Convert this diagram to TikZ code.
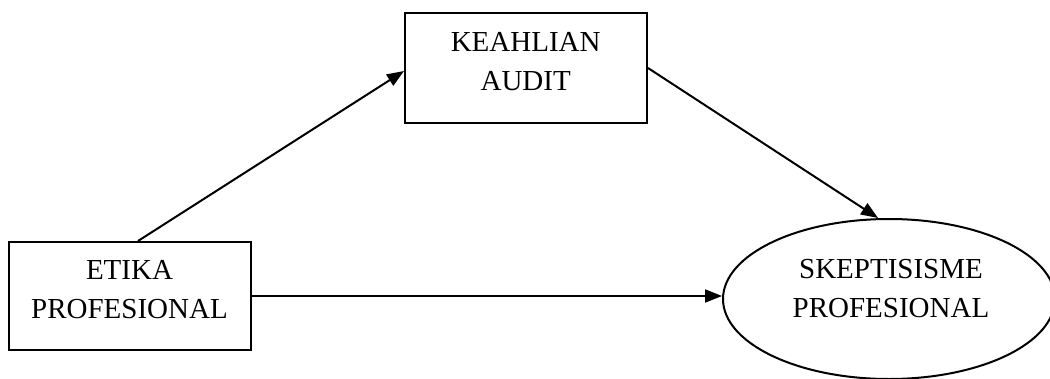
\documentclass[tikz,border=0pt]{standalone}
\usepackage{fontspec}
\setmainfont{Liberation Serif}
\usetikzlibrary{arrows.meta,shapes.geometric,calc}
\begin{document}
\begin{tikzpicture}[x=1pt,y=-1pt,
  boxstyle/.style={draw,line width=2pt,rectangle,inner sep=0pt},
  ovalstyle/.style={draw,line width=2pt,ellipse,inner sep=0pt},
  txt/.style={align=center,inner sep=0pt,font=\fontsize{29}{39}\selectfont},
  arr/.style={line width=2pt,-{Triangle[length=17pt,width=13pt]}}]
\useasboundingbox (0,0) rectangle (1050,378);
\begin{scope}
\clip (0,0) rectangle (1050,378);
\node[boxstyle,minimum width=242pt,minimum height=110pt] (ka) at (526,68) {};
\node[txt] (kat) at (525.7,61.3) {KEAHLIAN\\AUDIT};
\node[boxstyle,minimum width=242pt,minimum height=108pt] (et) at (130,296) {};
\node[txt] (ett) at (129.5,289.7) {ETIKA\\PROFESIONAL};
\node[ovalstyle,minimum width=332pt,minimum height=160pt] (sk) at (889,299) {};
\node[txt] (skt) at (891,288.9) {SKEPTISISME\\PROFESIONAL};
\draw[arr] ([xshift=8pt]et.north) -- ([yshift=-3pt]ka.west);
\draw[arr] (ka.east) -- ([xshift=-11pt]sk.north);
\draw[arr] (et.east) -- (et.east -| sk.west);
\end{scope}
\end{tikzpicture}
\end{document}
